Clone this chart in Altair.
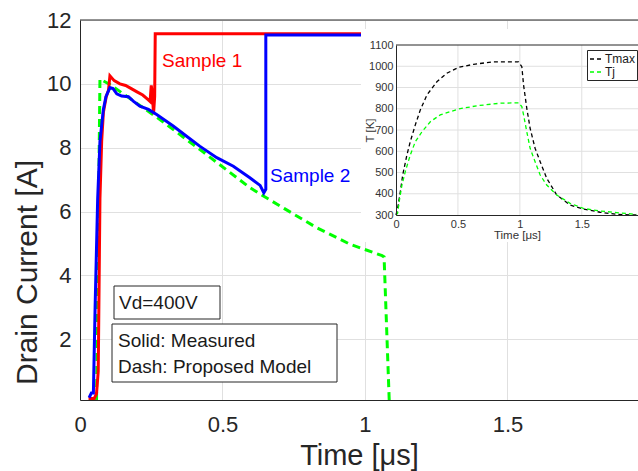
import altair as alt
import pandas as pd

# ---------------- main plot data (time in us, drain current in A) ----------------
red_t = [0.030, 0.050, 0.058, 0.064, 0.070, 0.076, 0.082, 0.092, 0.100, 0.105, 0.110, 0.120,
         0.140, 0.160, 0.180, 0.200, 0.220, 0.240, 0.246, 0.250, 0.254, 0.258, 0.262, 0.264, 1.958]
red_i = [0.15, 0.15, 0.30, 1.00, 6.40, 8.20, 9.10, 9.60, 9.80, 10.25, 10.20, 10.10,
         10.00, 9.95, 9.85, 9.75, 9.65, 9.50, 9.45, 9.95, 9.70, 9.05, 9.60, 11.57, 11.57]

blue_t = [0.032, 0.040, 0.047, 0.053, 0.062, 0.070, 0.082, 0.091, 0.105, 0.116, 0.129, 0.146,
          0.170, 0.187, 0.210, 0.240, 0.269, 0.327, 0.374, 0.420, 0.480, 0.538, 0.596, 0.632,
          0.645, 0.652, 0.652, 1.958]
blue_i = [0.17, 0.32, 0.32, 3.00, 6.40, 8.20, 9.20, 9.60, 9.88, 9.85, 9.69, 9.62,
          9.60, 9.46, 9.30, 9.20, 9.04, 8.68, 8.36, 8.05, 7.69, 7.42, 7.06, 6.82,
          6.59, 6.70, 11.53, 11.53]

green_t = [0.058, 0.070, 0.105, 0.270, 0.420, 0.596, 0.645, 0.716, 0.830, 0.947, 1.060, 1.067, 1.085]
green_i = [0.10, 10.15, 9.98, 8.95, 7.95, 6.75, 6.48, 6.10, 5.50, 4.98, 4.62, 4.58, 0.10]

# ---------------- inset data (time in us, temperature in K) ----------------
tmax_t = [0.0, 0.013, 0.035, 0.054, 0.088, 0.115, 0.156, 0.196, 0.250, 0.330, 0.410, 0.505,
          0.626, 0.787, 0.989, 1.016, 1.030, 1.056, 1.083, 1.123, 1.164, 1.217, 1.298, 1.406,
          1.513, 1.648, 1.782, 1.940]
tmax_k = [300, 331, 410, 488, 582, 645, 724, 794, 865, 927, 967, 995,
          1009, 1021, 1021, 998, 912, 802, 708, 614, 551, 473, 394, 347,
          328, 313, 303, 300]

tj_t = [0.0, 0.013, 0.030, 0.048, 0.075, 0.115, 0.156, 0.210, 0.277, 0.357, 0.505, 0.653,
        0.840, 0.989, 1.016, 1.030, 1.056, 1.083, 1.123, 1.164, 1.217, 1.298, 1.406, 1.513,
        1.648, 1.782, 1.940]
tj_k = [300, 308, 379, 441, 504, 582, 645, 692, 739, 771, 799, 814,
        826, 828, 810, 771, 692, 614, 551, 488, 441, 394, 355, 331,
        319, 311, 303]

series_names = ["Tmax", "Tj"]
series_colors = ["#000000", "#00ff00"]

main_x_ticks = [0, 0.5, 1, 1.5]
main_y_ticks = [2, 4, 6, 8, 10, 12]
inset_x_ticks = [0, 0.5, 1, 1.5]
inset_y_ticks = [300, 400, 500, 600, 700, 800, 900, 1000, 1100]

X_DOM = [0, 1.958]
Y_DOM = [0.1, 12]
IX_DOM = [0, 1.954]
IY_DOM = [300, 1100]

AX = "#262626"
GRID = "#e0e0e0"
FONT = "Liberation Sans"

def frame(ts, vs, name):
    return pd.DataFrame({"t": ts, "v": vs, "s": name, "idx": list(range(len(ts)))})

red_df = frame(red_t, red_i, "Sample 1")
blue_df = frame(blue_t, blue_i, "Sample 2")
green_df = frame(green_t, green_i, "Model")
tmax_df = frame(tmax_t, tmax_k, "Tmax")
tj_df = frame(tj_t, tj_k, "Tj")
inset_df = pd.concat([tmax_df, tj_df], ignore_index=True)
one = pd.DataFrame({"a": [0]})

# ---------------- main encodings ----------------
mx = alt.X("t:Q", scale=alt.Scale(domain=X_DOM, nice=False, zero=False),
           axis=alt.Axis(values=main_x_ticks, format="~g", title="Time [μs]",
                         labelFontSize=22, labelColor=AX, labelPadding=14, ticks=False,
                         labelFlush=False, labelOverlap=False,
                         domainColor=AX, gridColor=GRID, grid=True, zindex=0,
                         titleFontSize=29, titleFontWeight="normal", titleColor=AX,
                         titleBaseline="alphabetic", titleY=64))
my = alt.Y("v:Q", scale=alt.Scale(domain=Y_DOM, nice=False, zero=False),
           axis=alt.Axis(values=main_y_ticks, format="d", title="Drain Current [A]",
                         labelFontSize=22, labelColor=AX, labelPadding=9, ticks=False,
                         labelFlush=False, labelOverlap=False,
                         domainColor=AX, gridColor=GRID, grid=True, zindex=0,
                         titleFontSize=30, titleFontWeight="normal", titleColor=AX,
                         titleBaseline="alphabetic", titleX=-44, titleY=252))
order = alt.Order("idx:Q")

red_line = alt.Chart(red_df).mark_line(color="#ff0000", strokeWidth=3).encode(x=mx, y=my, order=order)
blue_line = alt.Chart(blue_df).mark_line(color="#0000ff", strokeWidth=3).encode(x=mx, y=my, order=order)
green_line = alt.Chart(green_df).mark_line(color="#00ff00", strokeWidth=3, strokeDash=[8, 5]).encode(x=mx, y=my, order=order)

top_df = pd.DataFrame({"t": [X_DOM[0]], "t2": [X_DOM[1]], "v": [Y_DOM[1]]})
top_border = alt.Chart(top_df).mark_rule(color=AX, strokeWidth=1).encode(x=mx, x2="t2:Q", y=my)

def label(txt, x, y, color, size=19):
    return alt.Chart(one).mark_text(text=txt, align="left", baseline="middle", fontSize=size,
                                    color=color, font=FONT).encode(x=alt.value(x), y=alt.value(y))

def box(x, x2, y, y2):
    return alt.Chart(one).mark_rect(fill="white", stroke=AX, strokeWidth=1).encode(
        x=alt.value(x), x2=alt.value(x2), y=alt.value(y), y2=alt.value(y2))

s1 = label("Sample 1", 82, 41, "#ff0000")
s2 = label("Sample 2", 190, 156, "#0000ff")
box1 = box(34, 140, 266, 299)
t1 = label("Vd=400V", 39, 283, "#1a1a1a")
box2 = box(32, 257, 304, 362)
t2 = label("Solid: Measured", 38, 321, "#1a1a1a")
t3 = label("Dash: Proposed Model", 38, 347, "#1a1a1a")

main = alt.layer(green_line, red_line, blue_line, top_border, s1, s2, box1, t1, box2, t2, t3)

# ---------------- inset ----------------
ix = alt.X("t:Q", scale=alt.Scale(domain=IX_DOM, range=[316, 558], nice=False, zero=False),
           axis=alt.Axis(orient="bottom", offset=-185, values=inset_x_ticks, format="~g",
                         title="Time [μs]", labelFontSize=11, labelColor="#333333", labelPadding=3,
                         labelFlush=False, labelOverlap=False,
                         ticks=False, grid=False, domainColor=AX, zindex=2,
                         titleFontSize=11.5, titleFontWeight="normal", titleColor="#333333",
                         titleBaseline="alphabetic", titleY=23))
iy = alt.Y("v:Q", scale=alt.Scale(domain=IY_DOM, range=[195, 25], nice=False, zero=False),
           axis=alt.Axis(orient="left", offset=-316, values=inset_y_ticks, format="d",
                         title="T [K]", labelFontSize=11, labelColor="#333333", labelPadding=3,
                         labelFlush=False, labelOverlap=False,
                         ticks=False, grid=False, domainColor=AX, zindex=2,
                         titleFontSize=11.5, titleFontWeight="normal", titleColor="#333333",
                         titleBaseline="alphabetic", titleX=-23))

bg = alt.Chart(one).mark_rect(fill="white").encode(
    x=alt.value(281), x2=alt.value(560), y=alt.value(9), y2=alt.value(222))

vgrid_df = pd.DataFrame({"t": [0.5, 1.0, 1.5], "v": [IY_DOM[0]] * 3, "v2": [IY_DOM[1]] * 3})
hgrid_df = pd.DataFrame({"v": inset_y_ticks[1:-1], "t": [IX_DOM[0]] * 7, "t2": [IX_DOM[1]] * 7})
vgrid = alt.Chart(vgrid_df).mark_rule(color=GRID, strokeWidth=1).encode(x=ix, y=iy, y2="v2:Q")
hgrid = alt.Chart(hgrid_df).mark_rule(color=GRID, strokeWidth=1).encode(y=iy, x=ix, x2="t2:Q")
itop_df = pd.DataFrame({"t": [IX_DOM[0]], "t2": [IX_DOM[1]], "v": [IY_DOM[1]]})
itop = alt.Chart(itop_df).mark_rule(color=AX, strokeWidth=1).encode(x=ix, x2="t2:Q", y=iy)

ilines = alt.Chart(inset_df).mark_line(strokeWidth=1.3, strokeDash=[4, 3]).encode(
    x=ix, y=iy, order=order,
    color=alt.Color("s:N", scale=alt.Scale(domain=series_names, range=series_colors),
                    legend=alt.Legend(orient="none", legendX=507, legendY=30, title=None,
                                      symbolType="stroke", symbolDash=[4, 3], symbolStrokeWidth=1.5,
                                      symbolSize=144, labelFontSize=12, labelColor="#1a1a1a",
                                      labelFont=FONT, fillColor="white", strokeColor=AX,
                                      padding=2, rowPadding=0, labelOffset=2)))

inset = alt.layer(bg, vgrid, hgrid, itop, ilines)

chart = alt.layer(main, inset).resolve_scale(x="independent", y="independent").properties(
    width=558, height=380,
    autosize=alt.AutoSizeParams(type="none"),
    padding={"left": 80, "top": 20, "right": 0, "bottom": 71},
).configure(font=FONT).configure_view(stroke=None)

chart.save("out.html", embed_options={"renderer": "svg", "actions": False})
